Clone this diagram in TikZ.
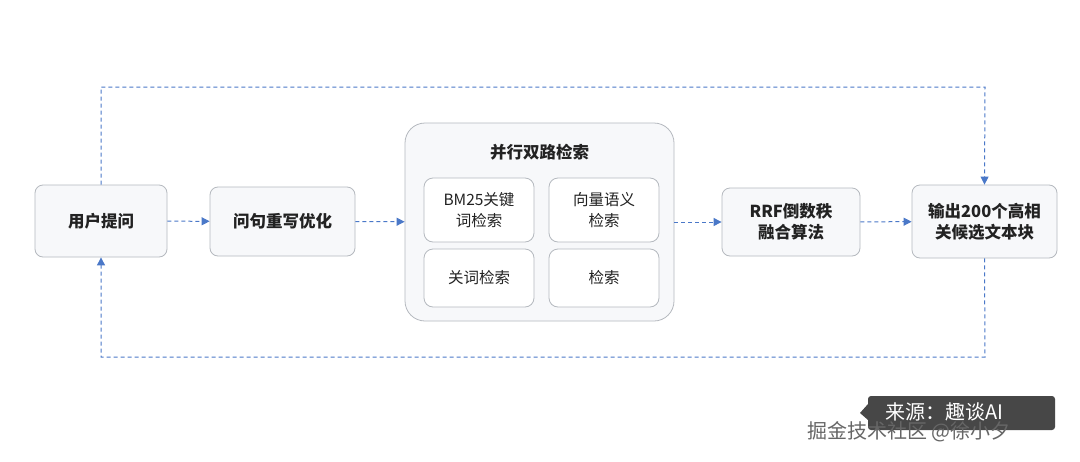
\documentclass[tikz,border=0pt]{standalone}
\usepackage{fontspec}
\setmainfont{Noto Sans CJK SC}
\usetikzlibrary{arrows.meta}
\definecolor{bd}{HTML}{B5B9BF}
\definecolor{fl}{HTML}{F7F8FA}
\definecolor{ar}{HTML}{4A78C8}
\definecolor{tx}{HTML}{222222}
\begin{document}
\begin{tikzpicture}[x=1pt,y=-1pt,
  box/.style={draw=bd,fill=fl,rounded corners=8pt,line width=0.8pt,align=center,text=tx,font=\fontsize{16.5}{21}\selectfont\bfseries},
  sub/.style={draw=bd,fill=white,rounded corners=9pt,line width=0.8pt,align=center,text=tx,font=\fontsize{15.5}{21}\selectfont,minimum width=110pt,inner sep=0pt},
  arr/.style={draw=ar,line width=1pt,dash pattern=on 4pt off 3pt,-{Triangle[length=8pt,width=8pt]}}]
\useasboundingbox[fill=white] (0,0) rectangle (1080,461);
\node[box,minimum width=132pt,minimum height=72pt] (u) at (101,221) {用户提问};
\node[box,minimum width=145pt,minimum height=69pt] (q) at (282.5,221.5) {问句重写优化};
\node[box,minimum width=269pt,minimum height=198pt,fill=fl,rounded corners=20pt] (p) at (539.5,222) {};
\node[text=tx,font=\fontsize{16.5}{21}\selectfont\bfseries] (pt) at (539.5,152) {并行双路检索};
\node[sub,minimum height=64pt] (b1) at (479,210) {BM25关键\\词检索};
\node[sub,minimum height=64pt] (b2) at (604,210) {向量语义\\检索};
\node[sub,minimum height=58pt] (b3) at (479,278) {关词检索};
\node[sub,minimum height=58pt] (b4) at (604,278) {检索};
\node[box,minimum width=138pt,minimum height=68pt] (r) at (791,222) {RRF倒数秩\\融合算法};
\node[box,minimum width=145pt,minimum height=73pt] (o) at (984.5,221.5) {输出200个高相\\关候选文本块};
\draw[arr] (u) -- (q);
\draw[arr] (q) -- (p);
\draw[arr] (p) -- (r);
\draw[arr] (r) -- (o);
\draw[arr] (u.north) -- (101,87) -- (985,87) -- (o.north);
\draw[arr] (o.south) -- (985,357) -- (101,357) -- (u.south);
\fill[black!72,rounded corners=3pt] (868,396) rectangle (1055,430);
\fill[black!72] (868,404) -- (860,413) -- (868,420) -- cycle;
\node[text=white,font=\fontsize{20}{22}\selectfont,anchor=west] (w1) at (882,412) {来源：趣谈AI};
\node[text=black!60,font=\fontsize{20}{22}\selectfont,anchor=west] (w2) at (804,432) {掘金技术社区 @徐小夕};
\end{tikzpicture}
\end{document}
